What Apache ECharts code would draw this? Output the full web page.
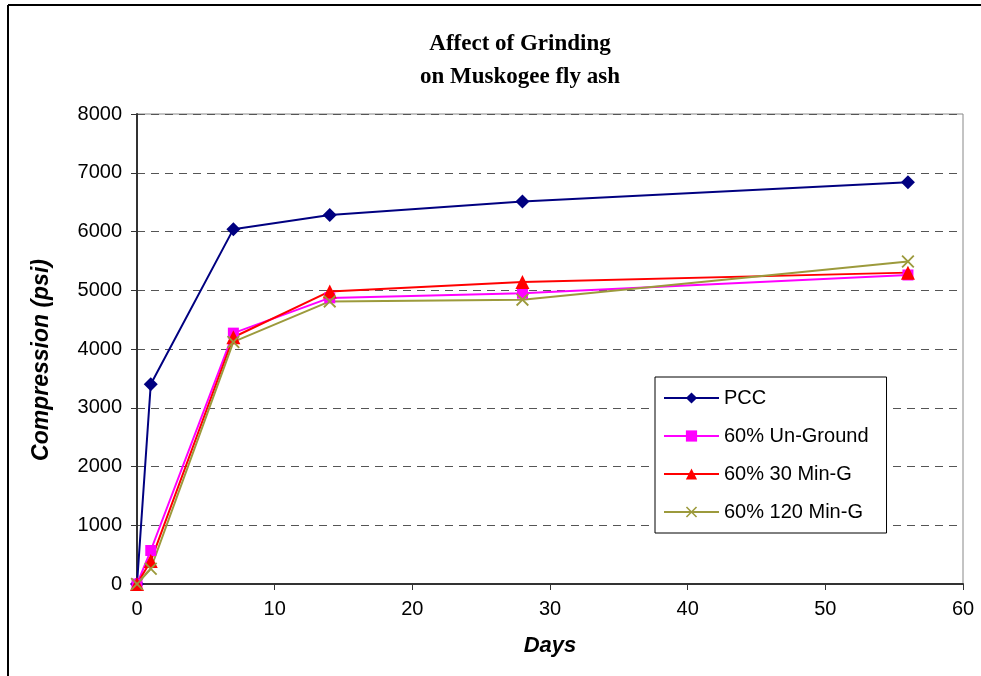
<!DOCTYPE html>
<html>
<head>
<meta charset="utf-8">
<title>Affect of Grinding on Muskogee fly ash</title>
<script src="https://cdn.jsdelivr.net/npm/echarts@6/dist/echarts.min.js"></script>
<style>
  html, body { margin: 0; padding: 0; background: #fff; }
  #chart { width: 981px; height: 676px; }
</style>
</head>
<body>
<div id="chart"></div>
<script>
// data
const days = [0, 1, 7, 14, 28, 56];
const pcc = [0, 3400, 6040, 6280, 6510, 6840];
const unGround = [0, 570, 4270, 4870, 4950, 5260];
const min30 = [0, 390, 4200, 4980, 5140, 5300];
const min120 = [0, 260, 4120, 4810, 4840, 5490];
const seriesNames = ['PCC', '60% Un-Ground', '60% 30 Min-G', '60% 120 Min-G'];
const xTicks = [0, 10, 20, 30, 40, 50, 60];
const yTicks = [0, 1000, 2000, 3000, 4000, 5000, 6000, 7000, 8000];

function pairs(vals) {
	return days.map(function(d, i) { return [d, vals[i]]; });
}

const crossPath = 'path://M0,1L1,0L5,4L9,0L10,1L6,5L10,9L9,10L5,6L1,10L0,9L4,5Z';

document.addEventListener('DOMContentLoaded', function() {
	const chart = echarts.init(document.getElementById('chart'), null, { renderer: 'canvas' });
	const font = '"Liberation Sans", Arial, sans-serif';

	function lineSeries(name, vals, color, symbol, size) {
		return {
			name: name,
			type: 'line',
			data: pairs(vals),
			symbol: symbol,
			symbolSize: size,
			showAllSymbol: true,
			lineStyle: { width: 2, color: color },
			itemStyle: { color: color, borderWidth: 0 },
			emphasis: { disabled: true }
		};
	}

	const option = {
		animation: false,
		backgroundColor: '#fff',
		textStyle: { fontFamily: font },
		title: {
			text: 'Affect of Grinding\non Muskogee fly ash',
			left: 515,
			top: 23,
			textAlign: 'center',
			textStyle: {
				fontFamily: '"Liberation Serif", "Times New Roman", serif',
				fontWeight: 'bold',
				fontSize: 23,
				lineHeight: 33,
				color: '#000'
			}
		},
		graphic: [
			{ type: 'line', shape: { x1: 8, y1: 5, x2: 981, y2: 5 }, style: { stroke: '#000', lineWidth: 2 } },
			{ type: 'line', shape: { x1: 8, y1: 5, x2: 8, y2: 676 }, style: { stroke: '#000', lineWidth: 2 } }
		],
		legend: {
			orient: 'vertical',
			left: 655,
			top: 377,
			data: seriesNames,
			itemWidth: 55,
			itemHeight: 14,
			itemGap: 18,
			padding: [11, 18, 11, 8],
			borderColor: '#000',
			borderWidth: 1,
			backgroundColor: '#fff',
			textStyle: { fontSize: 20, color: '#000', fontFamily: font }
		},
		grid: {
			left: 137,
			top: 114,
			right: 18,
			bottom: 92,
			show: true,
			borderColor: '#888',
			borderWidth: 1
		},
		xAxis: {
			type: 'value',
			min: xTicks[0],
			max: xTicks[xTicks.length - 1],
			interval: 10,
			name: 'Days',
			nameLocation: 'middle',
			nameGap: 51,
			nameTextStyle: { fontSize: 22, fontWeight: 'bold', fontStyle: 'italic', color: '#000', fontFamily: font },
			axisLine: { lineStyle: { color: '#333', width: 2 } },
			axisTick: { show: true, length: 6, inside: false, lineStyle: { color: '#333' } },
			axisLabel: { fontSize: 20, color: '#000', margin: 15 },
			splitLine: { show: false }
		},
		yAxis: {
			type: 'value',
			min: yTicks[0],
			max: yTicks[yTicks.length - 1],
			interval: 1000,
			name: 'Compression (psi)',
			nameLocation: 'middle',
			nameRotate: 90,
			nameGap: 84,
			nameTextStyle: { fontSize: 23, fontWeight: 'bold', fontStyle: 'italic', color: '#000', fontFamily: font, padding: [0, 22, 0, 0] },
			axisLine: { show: true, lineStyle: { color: '#333', width: 2 } },
			axisTick: { show: true, length: 6, inside: false, lineStyle: { color: '#333' } },
			axisLabel: { fontSize: 20, color: '#000', margin: 15, formatter: function(v) { return String(v); } },
			splitLine: { show: true, lineStyle: { color: '#555', type: [8, 6], width: 1 } }
		},
		series: [
			lineSeries(seriesNames[0], pcc, '#000080', 'diamond', 14),
			lineSeries(seriesNames[1], unGround, '#FF00FF', 'rect', 11),
			lineSeries(seriesNames[2], min30, '#FF0000', 'triangle', 14),
			lineSeries(seriesNames[3], min120, '#9C9A3C', crossPath, 13)
		]
	};
	chart.setOption(option);
	window.addEventListener('resize', function() {
		chart.resize();
	});
});
</script>
</body>
</html>
